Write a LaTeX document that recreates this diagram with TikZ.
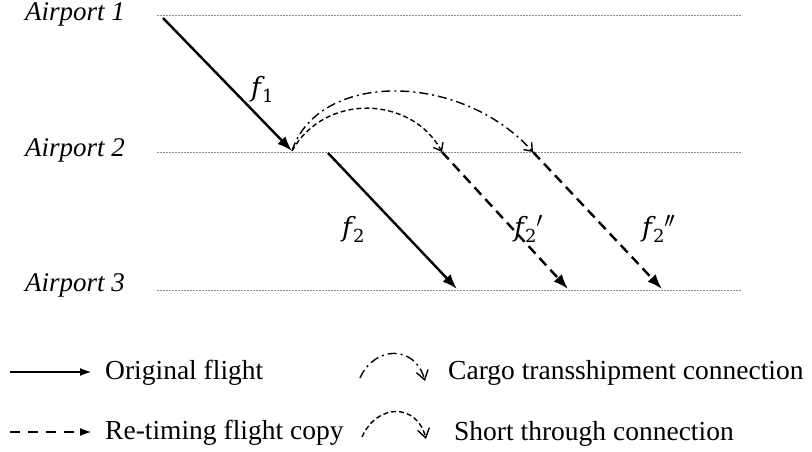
\RequirePackage{fix-cm}
\documentclass[tikz,border=0pt]{standalone}
\usepackage{fontspec}
\setmainfont{Liberation Serif}[ItalicFont=Liberation Serif Italic]
\newfontfamily\ffont{DejaVu Serif}
\newcommand\fprime{\raisebox{9pt}{\fontsize{22}{24}\selectfont$\prime$}}
\newcommand\flab[2]{{\ffont\itshape f}\kern1pt\raisebox{-6pt}{\ffont\fontsize{18}{19}\selectfont #1}#2}
\usetikzlibrary{arrows.meta}
\begin{document}
\begin{tikzpicture}[x=1pt,y=-1pt,
  airline/.style={draw=gray!90, line width=1pt, dash pattern=on 2pt off 1pt},
  flight/.style={line width=2.4pt, -{Latex[length=15pt,width=11pt]}},
  copyflight/.style={flight, dash pattern=on 10pt off 6pt},
  shortconn/.style={line width=1.4pt, dash pattern=on 5pt off 3pt, -{Straight Barb[length=7pt,width=11pt]}},
  cargoconn/.style={line width=1.4pt, dash pattern=on 9pt off 4pt on 2pt off 4pt, -{Straight Barb[length=7pt,width=11pt]}},
  aplabel/.style={font=\fontsize{27}{32}\selectfont\itshape, anchor=base west, inner sep=0pt},
  flabel/.style={font=\fontsize{26.5}{30}\selectfont, inner sep=0pt, anchor=base west},
  legtext/.style={font=\fontsize{27.5}{32}\selectfont, anchor=base west, inner sep=0pt},
  legline/.style={line width=2.2pt, -{Latex[length=12pt,width=8pt]}},
]
\useasboundingbox (0,0) rectangle (812,452);

% airport labels and lines
\node[aplabel] (ap1) at (25,21) {Airport 1};
\node[aplabel] (ap2) at (25,156) {Airport 2};
\node[aplabel] (ap3) at (25,291) {Airport 3};
\coordinate (l1a) at (157,16);  \coordinate (l1b) at (742,16);
\coordinate (l2a) at (157,152); \coordinate (l2b) at (742,152);
\coordinate (l3a) at (157,290); \coordinate (l3b) at (742,290);
\draw[airline] (l1a) -- (l1b);
\draw[airline] (l2a) -- (l2b);
\draw[airline] (l3a) -- (l3b);

% flights
\coordinate (f1s) at (163,18);  \coordinate (f1e) at (292,151);
\coordinate (f2s) at (328,153); \coordinate (f2e) at (457,289);
\coordinate (f2as) at (442,152); \coordinate (f2ae) at (568,289);
\coordinate (f2bs) at (533,152); \coordinate (f2be) at (662,289);
\draw[flight] (f1s) -- (f1e);
\draw[flight] (f2s) -- (f2e);
\draw[copyflight] (f2as) -- (f2ae);
\draw[copyflight] (f2bs) -- (f2be);

% connections
\draw[shortconn] (f1e) .. controls (325,92) and (412,96) .. (f2as);
\draw[cargoconn] (f1e) .. controls (318,71) and (460,71) .. (f2bs);

% flight labels
\node[flabel] (lf1) at (251,96) {\flab{1}{}};
\node[flabel] (lf2) at (342,236) {\flab{2}{}};
\node[flabel] (lf2a) at (514,236) {\flab{2}{\fprime}};
\node[flabel] (lf2b) at (642,236) {\flab{2}{\fprime\kern-2pt\fprime}};

% legend
\coordinate (lg1s) at (10,372); \coordinate (lg1e) at (92,372);
\coordinate (lg2s) at (10,432); \coordinate (lg2e) at (92,432);
\draw[legline] (lg1s) -- (lg1e);
\draw[legline, dash pattern=on 10pt off 8pt] (lg2s) -- (lg2e);
\node[legtext] (t1) at (105,379) {Original flight};
\node[legtext] (t2) at (105,439) {Re-timing flight copy};

\coordinate (lc1s) at (360,378); \coordinate (lc1e) at (425,381);
\coordinate (lc2s) at (362,437); \coordinate (lc2e) at (426,439);
\draw[cargoconn, -{Straight Barb[length=9pt,width=12pt]}] (lc1s) .. controls (375,345) and (415,345) .. (lc1e);
\draw[shortconn, -{Straight Barb[length=9pt,width=12pt]}] (lc2s) .. controls (377,403) and (417,403) .. (lc2e);
\node[legtext] (t3) at (448,379) {Cargo transshipment connection};
\node[legtext] (t4) at (454,440) {Short through connection};
\end{tikzpicture}
\end{document}
